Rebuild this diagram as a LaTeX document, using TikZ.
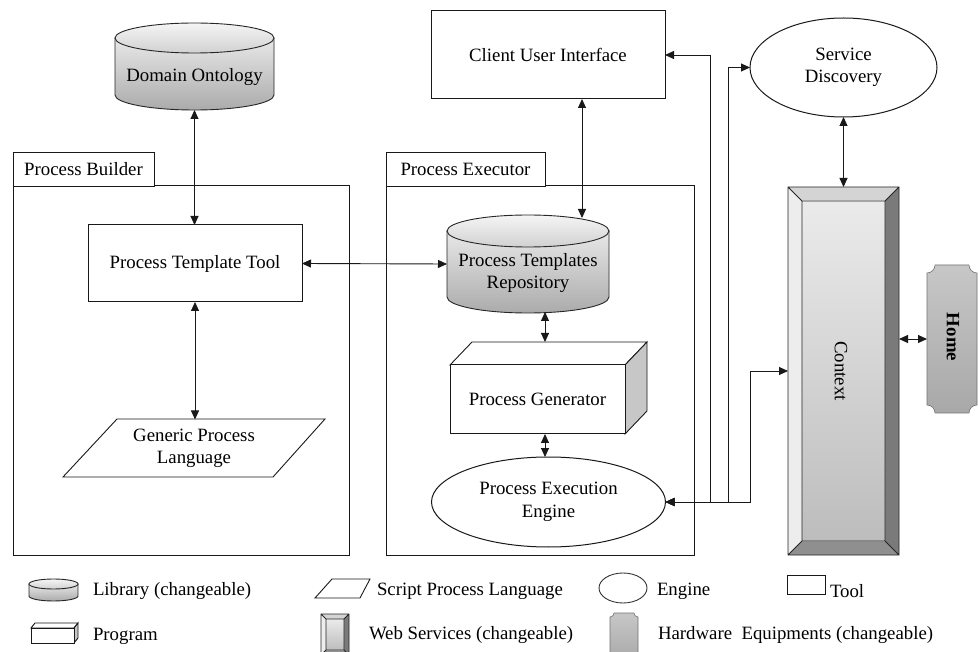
\documentclass[tikz,border=0pt]{standalone}
\usepackage{fontspec}
\setmainfont{Liberation Serif}
\usetikzlibrary{arrows.meta,shapes.geometric,calc}

\newcommand\drawcyl[5]{%
  \pgfmathsetmacro\cxa{(#1+#2)/2}%
  \pgfmathsetmacro\rxa{(#2-#1)/2}%
  \pgfmathsetmacro\yta{#3+#5}%
  \pgfmathsetmacro\yba{#4-#5}%
  \path[cylbody] (#1,\yta) -- (#1,\yba) arc[start angle=180,end angle=360,x radius=\rxa pt,y radius=#5pt] -- (#2,\yta) -- cycle;
  \path[cyltop] (\cxa,\yta) ellipse[x radius=\rxa pt, y radius=#5pt];
}
\newcommand\bevelbox[5]{%
  \pgfmathsetmacro\bxa{#1+#5}\pgfmathsetmacro\bya{#2+#5}%
  \pgfmathsetmacro\bxb{#3-#5}\pgfmathsetmacro\byb{#4-#5}%
  \fill[black!17] (#1,#2) -- (#3,#2) -- (\bxb,\bya) -- (\bxa,\bya) -- cycle;
  \fill[black!7] (#1,#2) -- (\bxa,\bya) -- (\bxa,\byb) -- (#1,#4) -- cycle;
  \fill[black!52] (#3,#2) -- (\bxb,\bya) -- (\bxb,\byb) -- (#3,#4) -- cycle;
  \fill[black!44] (#1,#4) -- (\bxa,\byb) -- (\bxb,\byb) -- (#3,#4) -- cycle;
  \shade[top color=black!8, bottom color=black!26] (\bxa,\bya) rectangle (\bxb,\byb);
  \draw[black!85, line width=0.8pt] (#1,#2) rectangle (#3,#4) (\bxa,\bya) rectangle (\bxb,\byb)
    (#1,#2) -- (\bxa,\bya) (#3,#2) -- (\bxb,\bya) (#1,#4) -- (\bxa,\byb) (#3,#4) -- (\bxb,\byb);
}
\newcommand\concavebox[5]{%
  \pgfmathsetmacro\cxa{#1+#5}\pgfmathsetmacro\cya{#2+#5}%
  \pgfmathsetmacro\cxb{#3-#5}\pgfmathsetmacro\cyb{#4-#5}%
  \path[hwshape] (\cxa,#2) -- (\cxb,#2) arc[start angle=180,end angle=270,radius=#5pt]
    -- (#3,\cyb) arc[start angle=90,end angle=180,radius=#5pt]
    -- (\cxa,#4) arc[start angle=0,end angle=90,radius=#5pt]
    -- (#1,\cya) arc[start angle=270,end angle=360,radius=#5pt] -- cycle;
}

\begin{document}
\begin{tikzpicture}[x=1pt,y=-1pt,
  every node/.style={font=\fontsize{18.8}{22.5}\selectfont, inner sep=0pt, outer sep=0pt},
  frame/.style={draw=black!90, line width=1pt},
  conn/.style={draw=black!90, line width=0.9pt},
  biarrow/.style={conn, {Triangle[length=9pt,width=8pt]}-{Triangle[length=9pt,width=8pt]}},
  box/.style={frame, rectangle, fill=white, align=center},
  ghost/.style={rectangle, align=center},
  oval/.style={frame, ellipse, fill=white, align=center},
  cylbody/.style={draw=black!85, line width=0.9pt, top color=black!9, bottom color=black!33},
  cyltop/.style={draw=black!85, line width=0.9pt, top color=black!4, bottom color=black!18},
  hwshape/.style={draw=black!55, line width=0.6pt, top color=black!22, bottom color=black!34},
  sideface/.style={draw=black!90, line width=0.9pt, fill=black!22},
  topface/.style={draw=black!90, line width=0.9pt, fill=white},
  lbl/.style={anchor=west},
]
\useasboundingbox (0,0) rectangle (978,652);
\fill[white] (0,0) rectangle (978,652);

% ---- group frames
\node[box, minimum width=336pt, minimum height=369pt] (pb) at (181,370.5) {};
\node[box, minimum width=141pt, minimum height=34pt] (pbtab) at (83.5,169.5) {Process Builder};
\node[box, minimum width=308pt, minimum height=369pt] (pe) at (540,370.5) {};
\node[box, minimum width=159pt, minimum height=34pt] (petab) at (465.5,169.5) {Process Executor};

% ---- Domain Ontology
\drawcyl{115}{274}{23}{110}{15}
\node[ghost, minimum width=159pt, minimum height=87pt] (dom) at (194.5,66.5) {};
\node (domtxt) at (194.5,77) {Domain Ontology};

% ---- Process Template Tool
\node[box, minimum width=214pt, minimum height=77pt] (ptt) at (195,263.5) {Process Template Tool};

% ---- Generic Process Language
\path[topface] (117,419) -- (325,419) -- (273,477) -- (63,477) -- cycle;
\node[ghost, minimum width=262pt, minimum height=58pt] (gpl) at (194,448.5) {Generic Process\\Language};

% ---- Client User Interface
\node[box, minimum width=234pt, minimum height=88pt] (cui) at (548,55) {Client User Interface};

% ---- Process Templates Repository
\drawcyl{447}{609}{215}{313}{16}
\node[ghost, minimum width=162pt, minimum height=98pt] (ptr) at (528,264) {};
\node[align=center] (ptrtxt) at (528,273) {Process Templates\\Repository};

% ---- Process Generator
\path[topface] (450,365) -- (472,342) -- (647,342) -- (625,365) -- cycle;
\path[sideface] (625,365) -- (647,342) -- (647,411) -- (625,434) -- cycle;
\node[box, minimum width=175pt, minimum height=69pt] (pg) at (537.5,399.5) {Process Generator};

% ---- Process Execution Engine
\node[oval, minimum width=234pt, minimum height=90pt] (eng) at (548.5,502) {Process Execution\\Engine};

% ---- Service Discovery
\node[oval, minimum width=187pt, minimum height=99pt] (sd) at (843.5,67.5) {Service\\Discovery};

% ---- Context
\bevelbox{788}{187}{899}{555}{14}
\node[ghost, minimum width=111pt, minimum height=368pt] (ctx) at (843.5,371) {};
\node[rotate=-90] (ctxtxt) at (841,371) {Context};

% ---- Home
\concavebox{927}{265}{977}{413}{8}
\node[ghost, minimum width=50pt, minimum height=148pt] (home) at (952,339) {};
\node[rotate=-90, font=\fontsize{18.8}{22.5}\selectfont\bfseries] (hometxt) at (953,337) {Home};

% ---- connectors
\draw[biarrow] (dom.south) -- (dom.south |- ptt.north);
\draw[biarrow] (ptt.south) -- (ptt.south |- gpl.north);
\draw[biarrow] (ptt.east) -- (ptr.west);
\draw[biarrow] ([xshift=34pt]cui.south) -- ([xshift=54pt,yshift=-3pt]ptr.north);
\draw[biarrow] ([xshift=17pt,yshift=1pt]ptr.south) -- ([xshift=7.5pt,yshift=23pt]pg.north);
\draw[biarrow] ([xshift=7.5pt]pg.south) -- ([xshift=-3.5pt]eng.north);
\draw[biarrow] (sd.south) -- (ctx.north);
\draw[biarrow] (ctx.east |- home.west) -- (home.west);
\draw[biarrow] (eng.east) -| ([xshift=45pt]cui.east) -- (cui.east);
\draw[biarrow] (eng.east) -| ([xshift=-22pt]sd.west) -- (sd.west);
\draw[biarrow] (eng.east) -| ([xshift=-38pt]ctx.west) -- (ctx.west);

% ---- legend
\drawcyl{29}{78}{579}{601}{5}
\node[lbl] (l1) at (93,591) {Library (changeable)};
\path[topface] (332,579) -- (370,579) -- (360,598) -- (315,598) -- cycle;
\node[lbl] (l2) at (377,591) {Script Process Language};
\draw[black!80, line width=0.9pt, fill=white] (623,588) ellipse[x radius=24pt, y radius=15pt];
\node[lbl] (l3) at (657,591) {Engine};
\draw[black!90, line width=0.9pt, fill=white] (787,575) rectangle (825,594);
\node[lbl] (l4) at (830,591) {Tool};
\path[topface] (31,628) -- (35,623) -- (78,623) -- (74,628) -- cycle;
\path[sideface] (74,628) -- (78,623) -- (78,638) -- (74,643) -- cycle;
\draw[black!90, line width=0.9pt, fill=white] (31,628) rectangle (74,643);
\node[lbl] (l5) at (93,636) {Program};
\bevelbox{321}{614}{349}{655}{5}
\node[lbl] (l6) at (369,635) {Web Services (changeable)};
\concavebox{610}{613}{638}{662}{4}
\node[lbl] (l7) at (658,635) {Hardware\ \ Equipments (changeable)};
\end{tikzpicture}
\end{document}
